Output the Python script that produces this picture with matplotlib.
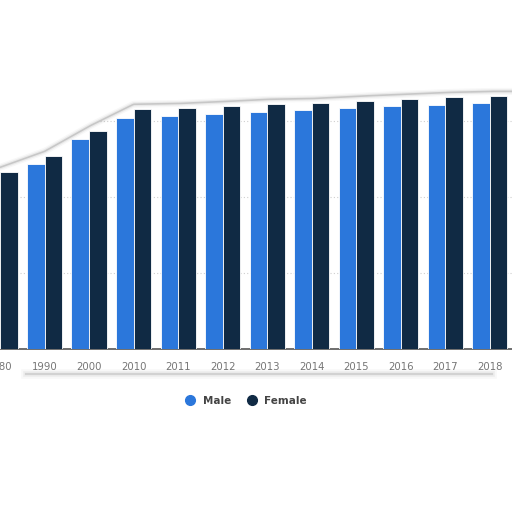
import matplotlib
matplotlib.use("Agg")
import matplotlib.pyplot as plt
import numpy as np
from matplotlib.lines import Line2D

years = ["1980", "1990", "2000", "2010", "2011", "2012", "2013",
         "2014", "2015", "2016", "2017", "2018"]
male = [44.5, 48.7, 55.3, 60.8, 61.3, 61.8, 62.4, 62.9, 63.4, 63.9, 64.2, 64.7]
female = [46.6, 50.8, 57.4, 63.2, 63.4, 63.9, 64.5, 64.7, 65.3, 65.8, 66.3, 66.6]

male_color = "#2b77db"
female_color = "#102a44"

fig = plt.figure(figsize=(5.12, 5.12), dpi=100)
ax = fig.add_axes([0, 1 - 349 / 512, 1, 349 / 512])

x = np.arange(len(years))
w = 0.395
ax.bar(x - w / 2, male, w, color=male_color, edgecolor="white", linewidth=0.6, zorder=3)
ax.bar(x + w / 2, female, w, color=female_color, edgecolor="white", linewidth=0.6, zorder=3)

ax.set_xlim(0, 11.5)
ax.set_ylim(0, 349 / 76 * 20)
ax.set_yticks([20, 40, 60, 80])
ax.yaxis.grid(True, color="#cfcfcf", linestyle=(0, (1, 2)), linewidth=0.8, zorder=0)
ax.set_yticklabels([])
ax.tick_params(axis="y", length=0)

ax.set_xticks(x)
ax.set_xticklabels(years, fontsize=7.3, color="#757575")
ax.tick_params(axis="x", length=0, pad=9)
for s in ["top", "right", "left"]:
    ax.spines[s].set_visible(False)
ax.spines["bottom"].set_color("#555555")
ax.spines["bottom"].set_linewidth(1.2)

# torn paper edge above the bars, following the taller bar of each group
xs = np.linspace(-0.5, 12, 400)
edge = np.interp(xs, x, np.maximum(male, female)) + 1.2
ax.fill_between(xs, edge, 200, color="white", zorder=5)
for lw, a in [(5, 0.06), (3, 0.12), (1.2, 0.35)]:
    ax.plot(xs, edge, color="#888888", linewidth=lw, alpha=a, zorder=6)

# torn edge below the labels
yb = 1 - 374 / 512
for lw, a in [(7, 0.05), (4, 0.1), (1.5, 0.25)]:
    fig.add_artist(Line2D([0.05, 0.96], [yb, yb], color="#888888",
                          linewidth=lw, alpha=a, transform=fig.transFigure))

handles = [Line2D([], [], marker="o", linestyle="", markersize=7, color=male_color),
           Line2D([], [], marker="o", linestyle="", markersize=7, color=female_color)]
leg = fig.legend(handles, ["Male", "Female"], loc="center", bbox_to_anchor=(0.475, 1 - 401 / 512),
                 ncol=2, frameon=False, handletextpad=0.2, columnspacing=1.0,
                 prop={"size": 7.5, "weight": "bold"})
for t in leg.get_texts():
    t.set_color("#444444")

fig.savefig("out.png", dpi=100, facecolor="white")
